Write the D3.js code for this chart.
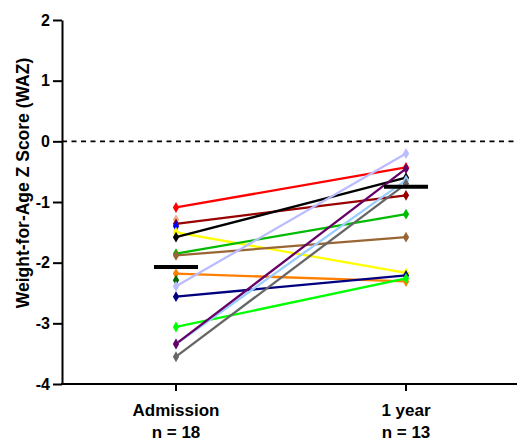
<!DOCTYPE html>
<html><head><meta charset="utf-8">
<script src="https://cdn.jsdelivr.net/npm/d3@7"></script>
<style>body{margin:0;background:#fff}svg{display:block}text{font-family:"Liberation Sans",Arial,sans-serif;font-weight:bold}</style>
</head><body>
<svg id="c" width="517" height="442"></svg>
<script>
const categories = ["Admission", "1 year"];
const nLabels = ["n = 18", "n = 13"];
const yTicks = [2, 1, 0, -1, -2, -3, -4];
const seriesColors = ["#FF0000","#E8B08C","#990000","#0000FF","#FFFF00","#000000","#00BB00","#996633","#FF8000","#006600","#BBBBFF","#000080","#00FF00","#99CCFF","#660066","#666666"];
const admissionValues = [-1.09,-1.29,-1.36,-1.40,-1.50,-1.58,-1.85,-1.88,-2.18,-2.29,-2.39,-2.56,-3.06,-3.34,-3.34,-3.55];
const oneYearValues =   [-0.43, null,-0.89, null,-2.17,-0.60,-1.20,-1.58,-2.31, null,-0.20,-2.21,-2.26,-0.64,-0.45,-0.70];
const medians = [-2.07, -0.75];

const svg = d3.select("#c");
const y = d3.scaleLinear().domain([-4, 2]).range([384, 20]);
const x = d3.scalePoint().domain(categories).range([176, 406]);
const x0 = 62;

// y axis
const yAxis = svg.append("g").attr("transform", `translate(${x0},0)`)
  .call(d3.axisLeft(y).tickValues(yTicks).tickFormat(d => String(d)).tickSize(9).tickSizeOuter(0).tickPadding(3));
yAxis.select(".domain").attr("stroke-width", 2);
yAxis.selectAll(".tick line").attr("stroke-width", 2);
yAxis.selectAll("text").attr("font-size", 16).attr("fill", "#000").attr("font-family", "Liberation Sans, Arial, sans-serif").attr("font-weight", "bold");

// x axis
const xAxisG = svg.append("g").attr("transform", `translate(0,${y(-4)})`);
xAxisG.append("line").attr("x1", x0 - 1).attr("x2", 517).attr("stroke", "#000").attr("stroke-width", 2);
categories.forEach((c, i) => {
  xAxisG.append("line").attr("x1", x(c)).attr("x2", x(c)).attr("y1", 0).attr("y2", 7).attr("stroke", "#000").attr("stroke-width", 2);
  xAxisG.append("text").attr("x", x(c)).attr("y", 32).attr("text-anchor", "middle").attr("font-size", 17).text(c);
  xAxisG.append("text").attr("x", x(c)).attr("y", 54).attr("text-anchor", "middle").attr("font-size", 17).text(nLabels[i]);
});

// y title
svg.append("text").attr("transform", `translate(29,183) rotate(-90)`).attr("text-anchor", "middle")
  .attr("font-size", 17.5).text("Weight-for-Age Z Score (WAZ)");

// zero dashed line
svg.append("line").attr("x1", x0).attr("x2", 517).attr("y1", y(0)).attr("y2", y(0))
  .attr("stroke", "#000").attr("stroke-width", 1.6).attr("stroke-dasharray", "5,4.5");

const diamond = d3.symbol().type(d3.symbolDiamond).size(34);

// lines
seriesColors.forEach((col, i) => {
  if (oneYearValues[i] !== null) {
    svg.append("line").attr("x1", x(categories[0])).attr("y1", y(admissionValues[i]))
      .attr("x2", x(categories[1])).attr("y2", y(oneYearValues[i]))
      .attr("stroke", col).attr("stroke-width", 2.3);
  }
});
// markers
seriesColors.forEach((col, i) => {
  svg.append("path").attr("d", diamond).attr("fill", col)
    .attr("transform", `translate(${x(categories[0])},${y(admissionValues[i])})`);
  if (oneYearValues[i] !== null) {
    svg.append("path").attr("d", diamond).attr("fill", col)
      .attr("transform", `translate(${x(categories[1])},${y(oneYearValues[i])})`);
  }
});

// median bars
medians.forEach((m, i) => {
  svg.append("line").attr("x1", x(categories[i]) - 22).attr("x2", x(categories[i]) + 22)
    .attr("y1", y(m)).attr("y2", y(m)).attr("stroke", "#000").attr("stroke-width", 4);
});
</script>
</body></html>
